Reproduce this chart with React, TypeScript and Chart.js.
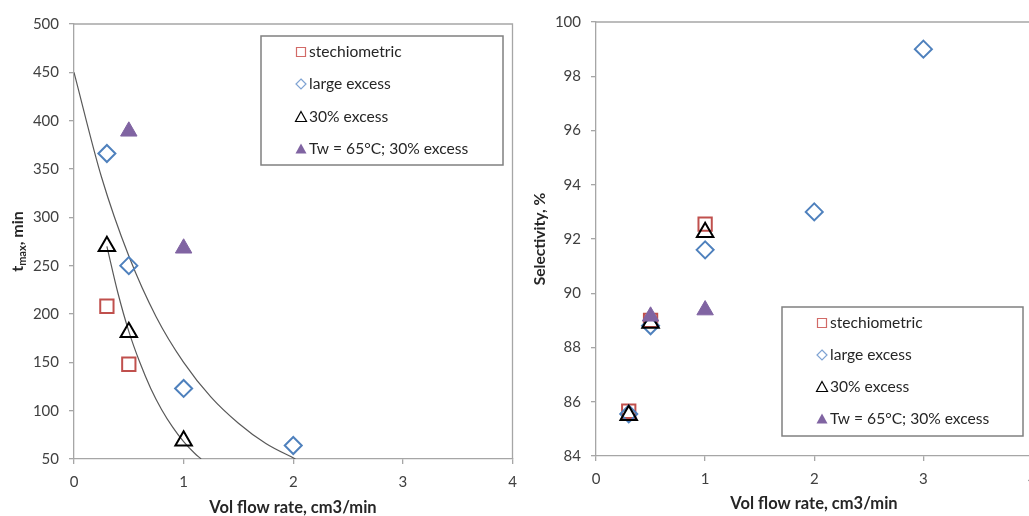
import React, { useEffect, useRef } from 'react';
import { Chart, registerables } from 'chart.js';

Chart.register(...registerables);

const FONT = 'Lato, "Open Sans", sans-serif';
const CW = 524;
const CH = 516;

// ---------- shared ----------
const seriesNames = ['stechiometric', 'large excess', '30% excess', 'Tw = 65°C; 30% excess'];
const xTitle = 'Vol flow rate, cm3/min';

// ---------- left chart: t_max ----------
const flowStechL = [0.3, 0.5];
const tmaxStech = [208, 148];
const flowLargeL = [0.3, 0.5, 1, 2];
const tmaxLarge = [366, 250, 123, 64];
const flow30L = [0.3, 0.5, 1];
const tmax30 = [270, 181, 69];
const flowTwL = [0.5, 1];
const tmaxTw = [389, 268];
// trend curves
const trendLargeX = [0, 0.25, 0.5, 0.75, 1, 1.25, 1.5, 1.75, 2.02];
const trendLargeY = [450, 342, 260, 197, 150, 114, 87, 66, 50];
const trend30X = [0.3, 0.4, 0.5, 0.6, 0.7, 0.8, 0.9, 1.0, 1.1, 1.16];
const trend30Y = [270, 222, 182, 150, 123, 101, 83, 68, 56, 50];

// ---------- right chart: selectivity ----------
const flowStechR = [0.3, 0.5, 1];
const selStech = [85.65, 89.0, 92.55];
const flowLargeR = [0.3, 0.5, 1, 2, 3];
const selLarge = [85.55, 88.8, 91.6, 93.0, 99.0];
const flow30R = [0.3, 0.5, 1];
const sel30 = [85.5, 88.9, 92.25];
const flowTwR = [0.5, 1];
const selTw = [89.15, 89.38];

const toPts = (xs: number[], ys: number[]) => xs.map((x, i) => ({ x, y: ys[i] }));

const RED = '#c0504d';
const BLUE = '#4f81bd';
const BLACK = '#000000';
const PURPLE = '#8064a2';
const AXIS = '#a6a6a6';

function scatterSets(s: number[][][]) {
  const [st, lg, p30, tw] = s;
  return [
    { label: seriesNames[0], data: toPts(st[0], st[1]), pointStyle: 'rect', pointRadius: 9.4, borderColor: RED, backgroundColor: 'rgba(0,0,0,0)', pointBorderWidth: 2, showLine: false, order: 4 },
    { label: seriesNames[1], data: toPts(lg[0], lg[1]), pointStyle: 'rectRot', pointRadius: 8.5, borderColor: BLUE, backgroundColor: 'rgba(0,0,0,0)', pointBorderWidth: 2, showLine: false, order: 3 },
    { label: seriesNames[2], data: toPts(p30[0], p30[1]), pointStyle: 'triangle', pointRadius: 9.5, borderColor: BLACK, backgroundColor: 'rgba(0,0,0,0)', pointBorderWidth: 2, showLine: false, order: 2 },
    { label: seriesNames[3], data: toPts(tw[0], tw[1]), pointStyle: 'triangle', pointRadius: 9.5, borderColor: PURPLE, backgroundColor: PURPLE, pointBorderWidth: 1, showLine: false, order: 1 },
  ];
}

function curveSet(xs: number[], ys: number[]) {
  return {
    label: '_curve', data: toPts(xs, ys), showLine: true, pointRadius: 0, borderColor: '#595959', borderWidth: 1.2,
    cubicInterpolationMode: 'monotone', fill: false, order: 5,
  };
}

const framePlugin = {
  id: 'frame',
  beforeDatasetsDraw(chart: any) {
    const { ctx, chartArea: a } = chart;
    ctx.save();
    ctx.strokeStyle = AXIS;
    ctx.lineWidth = 1.3;
    ctx.beginPath();
    ctx.moveTo(a.left, a.top);
    ctx.lineTo(a.right, a.top);
    ctx.lineTo(a.right, a.bottom);
    ctx.stroke();
    ctx.restore();
  },
};

function drawMarker(ctx: CanvasRenderingContext2D, kind: number, cx: number, cy: number) {
  ctx.save();
  ctx.lineWidth = 1.2;
  ctx.beginPath();
  if (kind === 0) {
    ctx.strokeStyle = '#d26a67';
    ctx.rect(cx - 4.5, cy - 4.5, 9, 9);
    ctx.stroke();
  } else if (kind === 1) {
    ctx.strokeStyle = '#7fa3d3';
    ctx.moveTo(cx, cy - 5);
    ctx.lineTo(cx + 5, cy);
    ctx.lineTo(cx, cy + 5);
    ctx.lineTo(cx - 5, cy);
    ctx.closePath();
    ctx.stroke();
  } else {
    ctx.moveTo(cx, cy - 5.5);
    ctx.lineTo(cx + 5.5, cy + 4.5);
    ctx.lineTo(cx - 5.5, cy + 4.5);
    ctx.closePath();
    if (kind === 2) {
      ctx.strokeStyle = '#000';
      ctx.stroke();
    } else {
      ctx.fillStyle = PURPLE;
      ctx.fill();
    }
  }
  ctx.restore();
}

const boxLegendPlugin = {
  id: 'boxLegend',
  afterDraw(chart: any, _args: any, opts: any) {
    const { ctx } = chart;
    const [l, t, r, b] = opts.box;
    ctx.save();
    ctx.fillStyle = '#fff';
    ctx.fillRect(l, t, r - l, b - t);
    ctx.strokeStyle = '#808080';
    ctx.lineWidth = 1.5;
    ctx.strokeRect(l, t, r - l, b - t);
    ctx.font = `15.6px ${FONT}`;
    ctx.textBaseline = 'middle';
    ctx.textAlign = 'left';
    seriesNames.forEach((name, i) => {
      const y = opts.rows[i];
      drawMarker(ctx, i, opts.markerX, y);
      ctx.fillStyle = '#262626';
      ctx.fillText(name, opts.textX, y);
    });
    ctx.restore();
  },
};

const titlesPlugin = {
  id: 'titles',
  afterDraw(chart: any, _args: any, opts: any) {
    const { ctx, chartArea: a } = chart;
    ctx.save();
    ctx.fillStyle = '#262626';
    ctx.textBaseline = 'middle';
    ctx.textAlign = 'center';
    ctx.font = `bold 16.5px ${FONT}`;
    ctx.fillText(xTitle, opts.xTitleX, opts.xTitleY);
    // rotated y title with parts
    const parts: { text: string; size: number; dy: number }[] = opts.yParts;
    const widths = parts.map((p) => {
      ctx.font = `bold ${p.size}px ${FONT}`;
      return ctx.measureText(p.text).width;
    });
    const total = widths.reduce((s, w) => s + w, 0);
    ctx.translate(opts.yTitleX, (a.top + a.bottom) / 2);
    ctx.rotate(-Math.PI / 2);
    ctx.textAlign = 'left';
    ctx.textBaseline = 'alphabetic';
    let x = -total / 2;
    parts.forEach((p, i) => {
      ctx.font = `bold ${p.size}px ${FONT}`;
      ctx.fillText(p.text, x, 5 + p.dy);
      x += widths[i];
    });
    ctx.restore();
  },
};

function makeConfig(o: any) {
  const tickFont = { family: FONT, size: 15 };
  return {
    type: 'scatter',
    data: { datasets: o.datasets },
    plugins: [framePlugin, boxLegendPlugin, titlesPlugin],
    options: {
      animation: false,
      responsive: false,
      layout: { padding: { top: o.area.top, right: 8, bottom: 0, left: 0 } },
      plugins: {
        legend: { display: false },
        tooltip: { enabled: false },
        boxLegend: o.legend,
        titles: o.titles,
      },
      scales: {
        x: {
          type: 'linear',
          min: 0,
          max: 4,
          afterFit: (s: any) => { s.height = CH - o.area.bottom; s.paddingLeft = 0; s.paddingRight = 0; },
          ticks: { stepSize: 1, padding: 9, font: tickFont, color: '#404040' },
          grid: { drawOnChartArea: false, drawTicks: true, tickLength: 5, color: AXIS, lineWidth: 1.3 },
          border: { color: AXIS, width: 1.3 },
        },
        y: {
          type: 'linear',
          min: o.yMin,
          max: o.yMax,
          afterFit: (s: any) => { s.width = o.area.left; s.paddingTop = 0; s.paddingBottom = 0; },
          ticks: { stepSize: o.yStep, padding: 10, font: tickFont, color: '#404040' },
          grid: { drawOnChartArea: false, drawTicks: true, tickLength: 5, color: AXIS, lineWidth: 1.3 },
          border: { color: AXIS, width: 1.3 },
        },
      },
    },
  };
}

export default function App() {
  const leftRef = useRef<HTMLCanvasElement | null>(null);
  const rightRef = useRef<HTMLCanvasElement | null>(null);

  useEffect(() => {
    const left = new Chart(leftRef.current as HTMLCanvasElement, makeConfig({
      datasets: [
        ...scatterSets([[flowStechL, tmaxStech], [flowLargeL, tmaxLarge], [flow30L, tmax30], [flowTwL, tmaxTw]]),
        curveSet(trendLargeX, trendLargeY),
        curveSet(trend30X, trend30Y),
      ],
      yMin: 50, yMax: 500, yStep: 50,
      area: { left: 74, top: 24, bottom: 459 },
      legend: { box: [261, 36, 503, 165], markerX: 301, textX: 309, rows: [52, 84, 117, 149] },
      titles: {
        xTitleX: 293, xTitleY: 508, yTitleX: 18,
        yParts: [
          { text: 't', size: 16, dy: 0 },
          { text: 'max', size: 11, dy: 3 },
          { text: ', min', size: 16, dy: 0 },
        ],
      },
    }) as any);
    const right = new Chart(rightRef.current as HTMLCanvasElement, makeConfig({
      datasets: scatterSets([[flowStechR, selStech], [flowLargeR, selLarge], [flow30R, sel30], [flowTwR, selTw]]),
      yMin: 84, yMax: 100, yStep: 2,
      area: { left: 76, top: 22, bottom: 456 },
      legend: { box: [262, 307, 503, 436], markerX: 302, textX: 310, rows: [323, 355, 387, 419] },
      titles: {
        xTitleX: 294, xTitleY: 504, yTitleX: 20,
        yParts: [{ text: 'Selectivity, %', size: 15.6, dy: 0 }],
      },
    }) as any);
    return () => {
      left.destroy();
      right.destroy();
    };
  }, []);

  return (
    <div style={{ position: 'absolute', left: 0, top: 0, width: 1029, height: 516, overflow: 'hidden', background: '#fff' }}>
      <canvas ref={leftRef} width={CW} height={CH} style={{ position: 'absolute', left: 0, top: 0 }} />
      <canvas ref={rightRef} width={CW} height={CH} style={{ position: 'absolute', left: 520, top: 0 }} />
    </div>
  );
}
